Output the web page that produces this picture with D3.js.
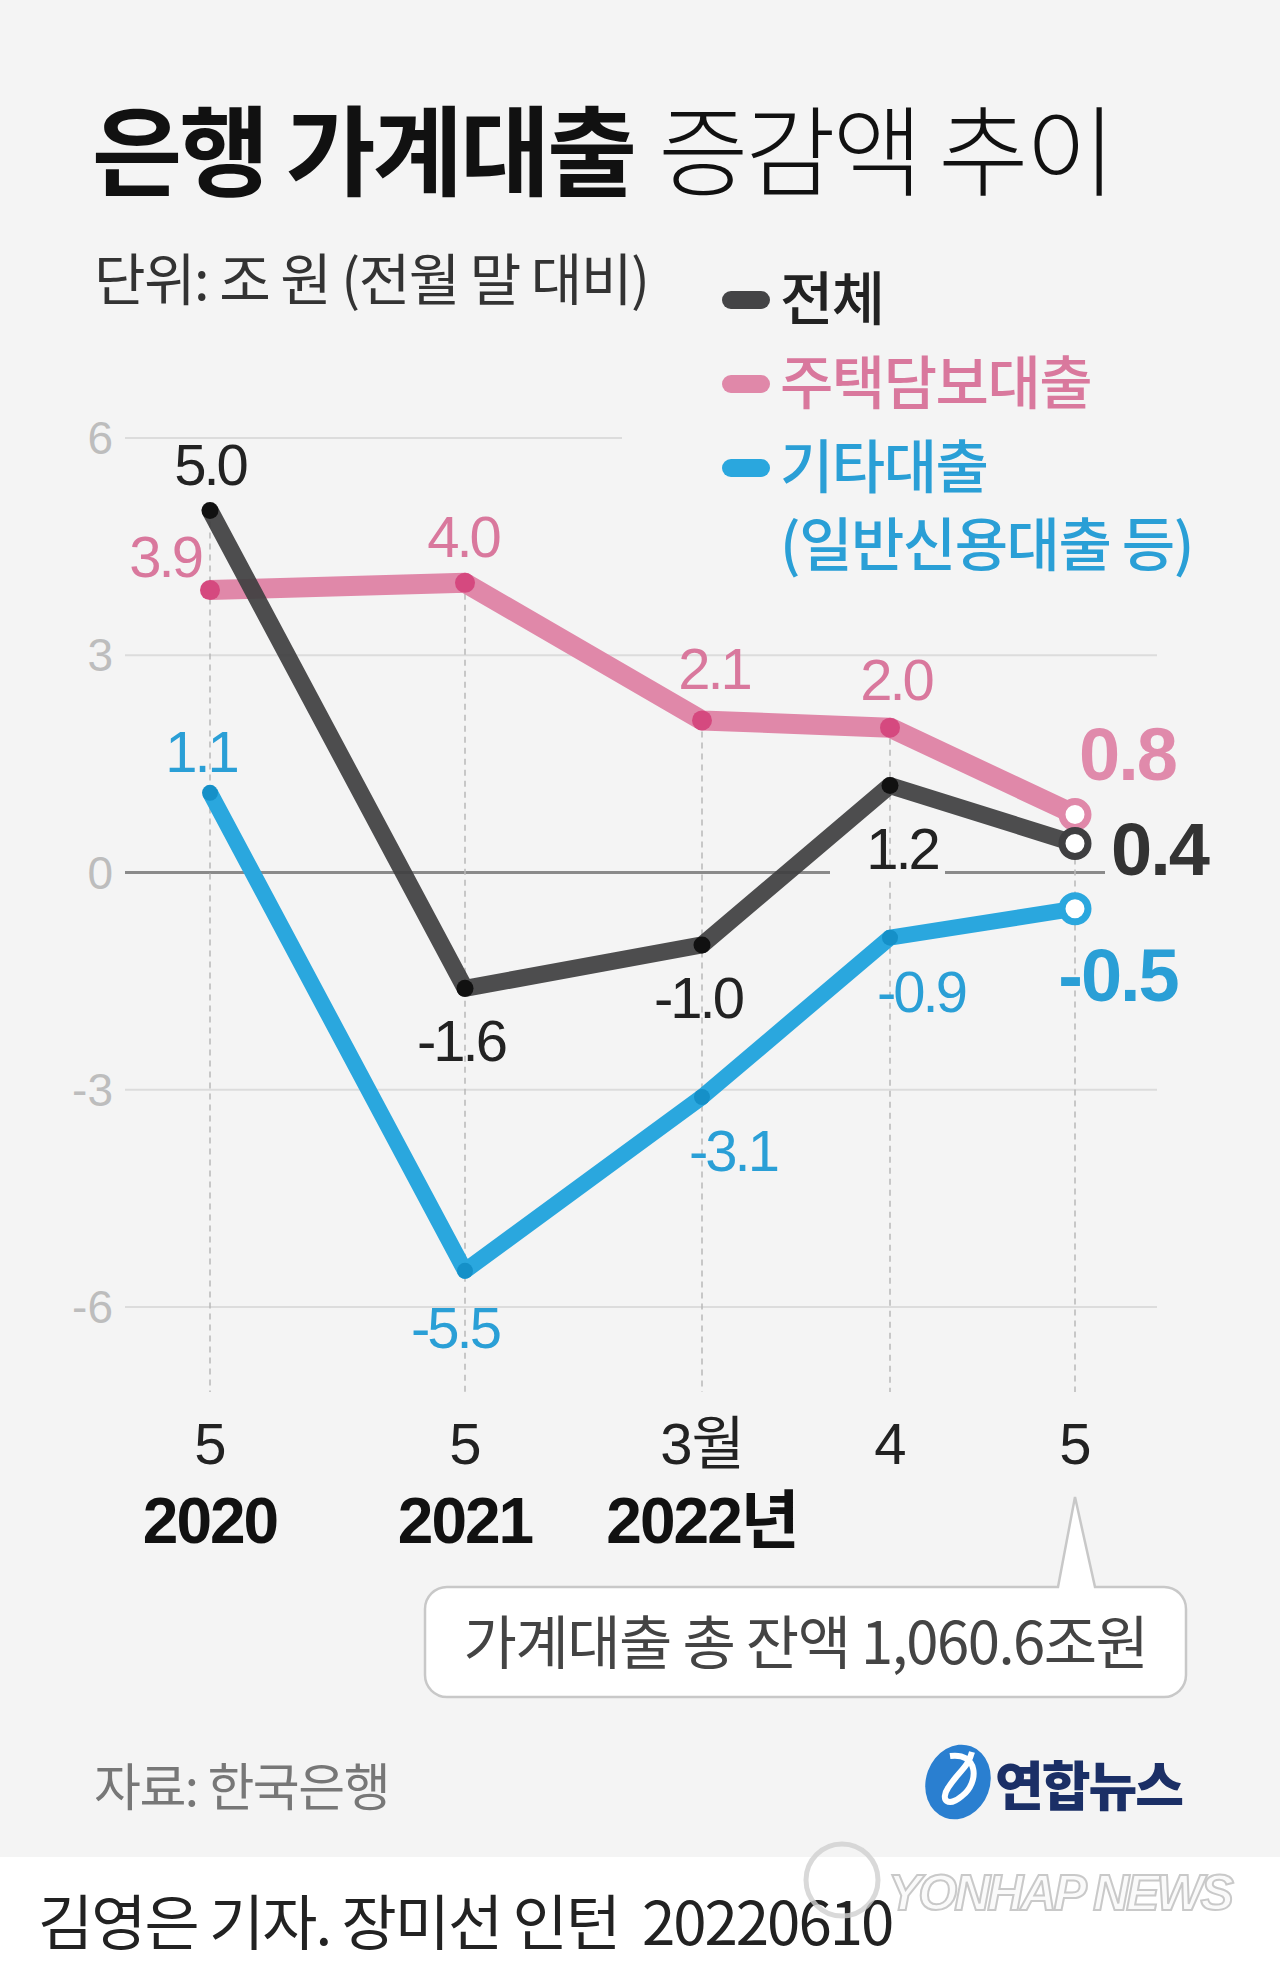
<!DOCTYPE html>
<html><head><meta charset="utf-8">
<script src="https://cdn.jsdelivr.net/npm/d3@7"></script>
<style>
html,body{margin:0;padding:0;background:#f4f4f4;}
svg{display:block;}
text{white-space:pre;}
</style></head>
<body>
<script>
// ---------- data ----------
const categories = ["2020-05","2021-05","2022-03","2022-04","2022-05"];
const monthLabels = ["5","5","3월","4","5"];
const yearLabels = ["2020","2021","2022년","",""];
const totalValues = [5.0,-1.6,-1.0,1.2,0.4];
const mortgageValues = [3.9,4.0,2.1,2.0,0.8];
const otherValues = [1.1,-5.5,-3.1,-0.9,-0.5];
const yTicks = [6,3,0,-3,-6];
const seriesNames = ["전체","주택담보대출","기타대출"];
const seriesNote = "(일반신용대출 등)";
const titleBold = "은행 가계대출";
const titleLight = "증감액 추이";
const unitText = "단위: 조 원 (전월 말 대비)";
const calloutText = "가계대출 총 잔액 1,060.6조원";
const sourceText = "자료: 한국은행";
const creditText = "김영은 기자. 장미선 인턴  20220610";

// ---------- setup ----------
const W=1280,H=1971;
const KR="'Noto Sans CJK KR','Noto Sans CJK SC',sans-serif";
const NUM="'Liberation Sans',Arial,'Noto Sans CJK KR',sans-serif";
const svg=d3.select("body").append("svg").attr("width",W).attr("height",H);
svg.append("rect").attr("width",W).attr("height",H).attr("fill","#f4f4f4");
svg.append("rect").attr("y",1857).attr("width",W).attr("height",H-1857).attr("fill","#ffffff");

const x=d3.scaleLinear().domain(d3.range(categories.length)).range([210,465,702,890,1075]);
const y=d3.scaleLinear().domain([-6,6]).range([1307,438]);

// ---------- title ----------
const t=svg.append("text").attr("x",92).attr("y",188).attr("font-family",KR)
  .attr("font-size",98).attr("letter-spacing",-3).attr("fill","#111");
t.append("tspan").attr("font-weight",700).text(titleBold);
t.append("tspan").attr("font-weight",300).attr("dx",24).text(titleLight);

svg.append("text").attr("x",94).attr("y",300).attr("font-family",KR).attr("font-size",56)
  .attr("font-weight",400).attr("letter-spacing",-1.5).attr("fill","#333").text(unitText);

// ---------- legend ----------
const legendColors=["#444446","#e088a9","#2aa7de"];
const legendTextColors=["#222","#d9789d","#2a9fd6"];
const legendY=[300,384,468];
seriesNames.forEach((n,i)=>{
  svg.append("rect").attr("x",722).attr("y",legendY[i]-9).attr("width",48).attr("height",18)
    .attr("rx",9).attr("fill",legendColors[i]);
  svg.append("text").attr("x",780).attr("y",legendY[i]+20).attr("font-family",KR)
    .attr("font-size",58).attr("font-weight",500).attr("letter-spacing",-1.5)
    .attr("fill",legendTextColors[i]).text(n);
});
svg.append("text").attr("x",780).attr("y",546+20).attr("font-family",KR)
  .attr("font-size",58).attr("font-weight",500).attr("letter-spacing",-1.5)
  .attr("fill",legendTextColors[2]).text(seriesNote);

// ---------- grid ----------
const g=svg.append("g");
yTicks.forEach(v=>{
  if(v===0) return;
  g.append("line").attr("x1",125).attr("x2",v===6?622:1157)
   .attr("y1",y(v)).attr("y2",y(v)).attr("stroke","#dcdcdc").attr("stroke-width",2);
});
g.append("line").attr("x1",125).attr("x2",1105).attr("y1",y(0)).attr("y2",y(0))
  .attr("stroke","#8a8a8a").attr("stroke-width",3);
yTicks.forEach(v=>{
  g.append("text").attr("x",113).attr("y",y(v)+16).attr("text-anchor","end")
   .attr("font-family",NUM).attr("font-size",46).attr("fill","#bdbdbd").text(v);
});
categories.forEach((c,i)=>{
  const top=d3.max([totalValues[i],mortgageValues[i],otherValues[i]]);
  g.append("line").attr("x1",x(i)).attr("x2",x(i)).attr("y1",y(top)).attr("y2",1392)
   .attr("stroke","#b8b8b8").attr("stroke-width",1.5).attr("stroke-dasharray","6,5");
});
g.append("rect").attr("x",x(3)-60).attr("y",y(0)-6).attr("width",115).attr("height",12).attr("fill","#f4f4f4");

// ---------- x labels ----------
categories.forEach((c,i)=>{
  svg.append("text").attr("x",x(i)).attr("y",1464).attr("text-anchor","middle")
    .attr("font-family",NUM).attr("font-size",58).attr("font-weight",400).attr("fill","#222")
    .attr("letter-spacing",-1).text(monthLabels[i]);
  if(yearLabels[i]) svg.append("text").attr("x",x(i)).attr("y",1543).attr("text-anchor","middle")
    .attr("font-family",NUM).attr("font-size",64).attr("font-weight",700).attr("fill","#111")
    .attr("letter-spacing",-2).text(yearLabels[i]);
});

// ---------- lines ----------
const line=d3.line().x((d,i)=>x(i)).y(d=>y(d));
function drawSeries(vals,color,width,dotColor,dotR,opacity){
  svg.append("path").datum(vals).attr("d",line).attr("fill","none").attr("stroke",color)
    .attr("stroke-width",width).attr("stroke-linejoin","round").attr("opacity",opacity);
  svg.selectAll(null).data(vals.slice(0,-1)).enter().append("circle")
    .attr("cx",(d,i)=>x(i)).attr("cy",d=>y(d)).attr("r",dotR).attr("fill",dotColor);
}
drawSeries(mortgageValues,"#e088a9",20,"#d5497f",10,1);
drawSeries(otherValues,"#2aa7de",16,"#1590c8",8,1);
drawSeries(totalValues,"#3f3f41",17,"#111",8.5,0.93);
const last=categories.length-1;
[[mortgageValues,"#e088a9"],[otherValues,"#2aa7de"],[totalValues,"#3f3f41"]].forEach(([v,c])=>{
  svg.append("circle").attr("cx",x(last)).attr("cy",y(v[last])).attr("r",13)
    .attr("fill","#fff").attr("stroke",c).attr("stroke-width",7);
});

// ---------- value labels ----------
function lab(i,v,dx,dy,color,anchor,size,weight){
  svg.append("text").attr("x",x(i)+dx).attr("y",y(v)+dy).attr("text-anchor",anchor)
    .attr("font-family",NUM).attr("font-size",size).attr("font-weight",weight)
    .attr("letter-spacing",size>65?-2:-3).attr("fill",color).text(d3.format(".1f")(v).replace("−","-"));
}
const totalOff=[[0,-25,"middle"],[-4,73,"middle"],[-4,73,"middle"],[12,83,"middle"]];
const mortOff=[[-9,-13,"end"],[-2,-26,"middle"],[12,-31,"middle"],[6,-28,"middle"]];
const otherOff=[[-9,-21,"middle"],[-10,77,"middle"],[31,74,"middle"],[31,74,"middle"]];
totalValues.slice(0,-1).forEach((v,i)=>lab(i,v,totalOff[i][0],totalOff[i][1],"#222",totalOff[i][2],58,400));
mortgageValues.slice(0,-1).forEach((v,i)=>lab(i,v,mortOff[i][0],mortOff[i][1],"#d9789d",mortOff[i][2],58,400));
otherValues.slice(0,-1).forEach((v,i)=>lab(i,v,otherOff[i][0],otherOff[i][1],"#2a9fd6",otherOff[i][2],58,400));
lab(last,totalValues[last],36,31,"#333","start",74,700);
lab(last,mortgageValues[last],4,-35,"#e08aab","start",74,700);
lab(last,otherValues[last],43,92,"#2a9fd6","middle",74,700);

// ---------- callout ----------
const bx=425,by=1587,bw=761,bh=110,r=22,tipX=x(last),tipY=1497;
const p=d3.path();
p.moveTo(bx+r,by);
p.lineTo(tipX-17,by); p.lineTo(tipX,tipY); p.lineTo(tipX+20,by);
p.lineTo(bx+bw-r,by); p.arcTo(bx+bw,by,bx+bw,by+r,r);
p.lineTo(bx+bw,by+bh-r); p.arcTo(bx+bw,by+bh,bx+bw-r,by+bh,r);
p.lineTo(bx+r,by+bh); p.arcTo(bx,by+bh,bx,by+bh-r,r);
p.lineTo(bx,by+r); p.arcTo(bx,by,bx+r,by,r); p.closePath();
svg.append("path").attr("d",p.toString()).attr("fill","#fff").attr("stroke","#c8c8c8").attr("stroke-width",2.5);
svg.append("text").attr("x",bx+bw/2).attr("y",1664).attr("text-anchor","middle").attr("font-family",KR)
  .attr("font-size",58).attr("font-weight",400).attr("letter-spacing",-1.5).attr("fill","#444").text(calloutText);

// ---------- source & logo ----------
svg.append("text").attr("x",94).attr("y",1806).attr("font-family",KR).attr("font-size",51)
  .attr("letter-spacing",-1.5).attr("fill","#777").text(sourceText);
const lg=svg.append("g").attr("transform","translate(958,1782)");
lg.append("ellipse").attr("rx",32).attr("ry",38).attr("fill","#2a7fd0").attr("transform","rotate(20)");
lg.append("path").attr("d","M-8,-26 C20,-30 22,0 4,14 C-10,26 -18,18 -10,6 C0,-10 10,-14 14,-30")
  .attr("fill","none").attr("stroke","#fff").attr("stroke-width",6);
svg.append("text").attr("x",995).attr("y",1806).attr("font-family",KR).attr("font-size",53)
  .attr("font-weight",900).attr("letter-spacing",-2).attr("fill","#1b2f66").text("연합뉴스");

// ---------- credit ----------
svg.append("text").attr("x",38).attr("y",1945).attr("font-family",KR).attr("font-size",60)
  .attr("letter-spacing",-2).attr("fill","#222").text(creditText);
svg.append("circle").attr("cx",842).attr("cy",1880).attr("r",36).attr("fill","none")
  .attr("stroke","#d0d0d0").attr("stroke-width",5).attr("opacity",0.8);
svg.append("text").attr("x",888).attr("y",1910).attr("font-family",NUM).attr("font-size",50)
  .attr("font-weight",700).attr("font-style","italic").attr("letter-spacing",-3)
  .attr("fill","#fafafa").attr("stroke","#c4c4c4").attr("stroke-width",2).attr("opacity",0.9).text("YONHAP NEWS");
</script>
</body></html>
